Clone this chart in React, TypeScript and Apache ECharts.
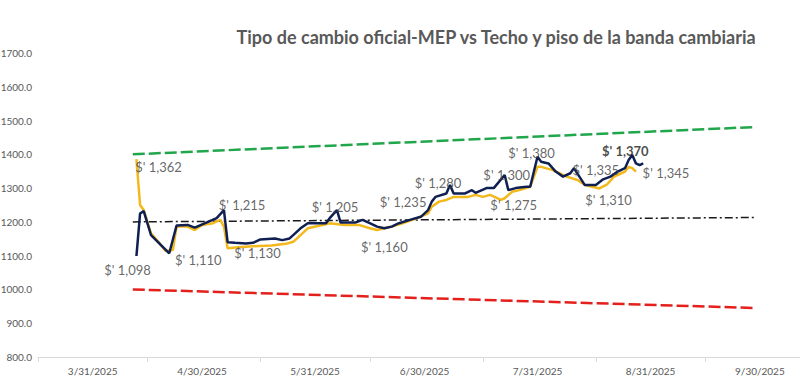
import React, { useEffect, useRef } from "react";
import * as echarts from "echarts";

const TITLE = "Tipo de cambio oficial-MEP vs Techo y piso de la banda cambiaria";

// Oficial (navy)
const oficialDates = [
  "2025-04-12", "2025-04-13", "2025-04-14", "2025-04-16", "2025-04-21", "2025-04-23", "2025-04-26", "2025-04-28",
  "2025-05-04", "2025-05-06", "2025-05-07", "2025-05-09", "2025-05-12", "2025-05-14", "2025-05-16", "2025-05-20",
  "2025-05-22", "2025-05-24", "2025-05-25", "2025-05-27", "2025-05-29", "2025-06-03", "2025-06-04", "2025-06-06",
  "2025-06-07", "2025-06-11", "2025-06-13", "2025-06-15", "2025-06-17", "2025-06-19", "2025-06-21", "2025-06-23",
  "2025-06-26", "2025-06-29", "2025-07-01", "2025-07-02", "2025-07-03", "2025-07-06", "2025-07-07", "2025-07-08",
  "2025-07-11", "2025-07-13", "2025-07-14", "2025-07-17", "2025-07-19", "2025-07-22", "2025-07-23", "2025-07-25",
  "2025-07-28", "2025-07-29", "2025-07-31", "2025-08-01", "2025-08-03", "2025-08-05", "2025-08-07", "2025-08-09",
  "2025-08-10", "2025-08-11", "2025-08-13", "2025-08-16", "2025-08-18", "2025-08-20", "2025-08-22", "2025-08-24",
  "2025-08-25", "2025-08-26", "2025-08-27", "2025-08-28", "2025-08-29",
];
const oficialValues = [
  1099, 1225, 1232, 1161, 1107, 1189, 1191, 1183,
  1211, 1235, 1140, 1138, 1136, 1138, 1148, 1151,
  1146, 1151, 1161, 1181, 1196, 1196, 1211, 1235,
  1198, 1198, 1206, 1196, 1186, 1181, 1186, 1196,
  1206, 1215, 1235, 1260, 1274, 1284, 1309, 1284,
  1284, 1294, 1286, 1300, 1300, 1339, 1294, 1300,
  1304, 1304, 1393, 1378, 1373, 1349, 1334, 1344,
  1359, 1342, 1309, 1309, 1326, 1334, 1349, 1359,
  1383, 1398, 1373, 1368, 1373,
];

// MEP (yellow)
const mepDates = [
  "2025-04-12", "2025-04-13", "2025-04-14", "2025-04-15", "2025-04-16", "2025-04-18", "2025-04-20", "2025-04-22",
  "2025-04-23", "2025-04-26", "2025-04-28", "2025-04-30", "2025-05-03", "2025-05-05", "2025-05-06", "2025-05-07",
  "2025-05-10", "2025-05-14", "2025-05-19", "2025-05-23", "2025-05-25", "2025-05-27", "2025-05-29", "2025-06-02",
  "2025-06-04", "2025-06-08", "2025-06-12", "2025-06-15", "2025-06-17", "2025-06-19", "2025-06-21", "2025-06-24",
  "2025-06-28", "2025-07-01", "2025-07-02", "2025-07-04", "2025-07-06", "2025-07-08", "2025-07-12", "2025-07-14",
  "2025-07-16", "2025-07-18", "2025-07-21", "2025-07-22", "2025-07-24", "2025-07-26", "2025-07-29", "2025-07-31",
  "2025-08-01", "2025-08-04", "2025-08-07", "2025-08-08", "2025-08-11", "2025-08-13", "2025-08-17", "2025-08-19",
  "2025-08-21", "2025-08-23", "2025-08-24", "2025-08-25", "2025-08-26", "2025-08-27",
];
const mepValues = [
  1386, 1250, 1235, 1200, 1166, 1141, 1114, 1117,
  1186, 1186, 1176, 1191, 1196, 1206, 1186, 1122,
  1125, 1128, 1130, 1135, 1141, 1161, 1181, 1191,
  1196, 1191, 1191, 1181, 1176, 1181, 1186, 1196,
  1211, 1225, 1245, 1260, 1265, 1274, 1274, 1280,
  1274, 1280, 1265, 1270, 1289, 1294, 1304, 1363,
  1363, 1354, 1339, 1334, 1324, 1309, 1299, 1310,
  1334, 1344, 1349, 1363, 1359, 1349,
];

// Band lines (ceiling, floor) and the dash-dot reference line
const bandDates = ["2025-04-11", "2025-09-29"];
const techoValues = [1400, 1481];
const pisoValues = [1000, 945];
const refValues = [1200, 1213];

// X-axis range, label dates (month ends) and tick dates (mid-months)
const xRange = ["2025-03-16", "2025-10-11"];
const xLabelDates = ["2025-03-31", "2025-04-30", "2025-05-31", "2025-06-30", "2025-07-31", "2025-08-31", "2025-09-30"];
const xTickDates = ["2025-03-16", "2025-04-15", "2025-05-16", "2025-06-15", "2025-07-16", "2025-08-16", "2025-09-15"];

// Annotations: which series / date they refer to, and their text
const annotationSeries = ["mep", "oficial", "oficial", "oficial", "oficial", "oficial", "oficial", "oficial",
  "oficial", "oficial", "mep", "oficial", "oficial", "mep", "oficial", "mep"];
const annotationDates = ["2025-04-12", "2025-04-12", "2025-04-21", "2025-05-06", "2025-05-07", "2025-06-06",
  "2025-06-19", "2025-07-01", "2025-07-07", "2025-07-22", "2025-07-22", "2025-07-31", "2025-08-16", "2025-08-17",
  "2025-08-26", "2025-08-27"];
const annotationTexts = ["$' 1,362", "$' 1,098", "$' 1,110", "$' 1,215", "$' 1,130", "$' 1,205", "$' 1,160",
  "$' 1,235", "$' 1,280", "$' 1,300", "$' 1,275", "$' 1,380", "$' 1,335", "$' 1,310", "$' 1,370", "$' 1,345"];

const DAY = 86400000;
const BASE = Date.UTC(2025, 2, 31);
function dayNum(s: string): number {
  const [y, m, d] = s.split("-").map(Number);
  return Math.round((Date.UTC(y, m - 1, d) - BASE) / DAY);
}
function dayLabel(n: number): string {
  const d = new Date(BASE + Math.round(n) * DAY);
  return `${d.getUTCMonth() + 1}/${d.getUTCDate()}/${d.getUTCFullYear()}`;
}

export default function App() {
  const ref = useRef<HTMLDivElement>(null);

  useEffect(() => {
    document.body.style.margin = "0";
    if (!ref.current) return;
    const chart = echarts.init(ref.current, null, { renderer: "svg" });

    const font = "Lato, 'Open Sans', sans-serif";
    const pair = (ds: string[], vs: number[]) => ds.map((d, i) => [dayNum(d), vs[i]]);

    const lookup = (series: string, date: string): number => {
      if (series === "mep") return mepValues[mepDates.indexOf(date)];
      return oficialValues[oficialDates.indexOf(date)];
    };

    // label offsets [dx, dy] (layout only)
    const offsets: [number, number][] = [
      [22, 8], [-9, 14], [29, 7], [18, -5], [30, 11], [-2, -3], [0, 19], [-25, -8],
      [-12, -2], [2, 0], [9, 7], [-6, -4], [0, -15], [9, 12], [-7, -4], [30, 1],
    ];

    const annotationData = annotationTexts.map((t, i) => ({
      value: [dayNum(annotationDates[i]), lookup(annotationSeries[i], annotationDates[i])],
      label: {
        show: true,
        formatter: t,
        offset: offsets[i],
        fontWeight: t === "$' 1,370" ? "bold" : "normal",
        color: t === "$' 1,370" ? "#1a1a1a" : "#404040",
      },
    }));

    chart.setOption({
      animation: false,
      backgroundColor: "#ffffff",
      title: {
        text: TITLE,
        right: 42,
        top: 26,
        textStyle: { fontFamily: font, fontSize: 18, fontWeight: "bold", color: "#595959", lineHeight: 22 },
        padding: 0,
      },
      grid: { left: 38, right: 0, top: 53, bottom: 23, containLabel: false, outerBoundsMode: "none" },
      xAxis: {
        type: "value",
        min: dayNum(xRange[0]),
        max: dayNum(xRange[1]),
        splitLine: { show: false },
        axisLine: { show: true, lineStyle: { color: "#d9d9d9", width: 1 } },
        axisTick: {
          show: true,
          length: 5,
          lineStyle: { color: "#d9d9d9" },
          customValues: xTickDates.map(dayNum),
        },
        axisLabel: {
          customValues: xLabelDates.map(dayNum),
          formatter: (v: number) => dayLabel(v),
          fontFamily: font,
          fontSize: 10,
          color: "#595959",
          margin: 9,
        },
      },
      yAxis: {
        type: "value",
        min: 800,
        max: 1700,
        interval: 100,
        splitLine: { show: false },
        axisLine: { show: false },
        axisTick: { show: false },
        axisLabel: {
          formatter: (v: number) => v.toFixed(1),
          fontFamily: font,
          fontSize: 10,
          color: "#595959",
          margin: 6,
        },
      },
      series: [
        {
          name: "Techo",
          type: "line",
          data: pair(bandDates, techoValues),
          showSymbol: false,
          lineStyle: { color: "#21a64b", width: 2.5, type: [12, 4] },
          silent: true,
        },
        {
          name: "Piso",
          type: "line",
          data: pair(bandDates, pisoValues),
          showSymbol: false,
          lineStyle: { color: "#e3201b", width: 2.5, type: [12, 4] },
          silent: true,
        },
        {
          name: "Ref",
          type: "line",
          data: pair(bandDates, refValues),
          showSymbol: false,
          lineStyle: { color: "#1a1a1a", width: 1.5, type: [8, 3, 2, 3] },
          silent: true,
        },
        {
          name: "MEP",
          type: "line",
          data: pair(mepDates, mepValues),
          showSymbol: false,
          lineStyle: { color: "#f2b81c", width: 2.5 },
          silent: true,
        },
        {
          name: "Oficial",
          type: "line",
          data: pair(oficialDates, oficialValues),
          showSymbol: false,
          lineStyle: { color: "#0f1f52", width: 2.5 },
          silent: true,
        },
        {
          name: "Etiquetas",
          type: "scatter",
          data: annotationData,
          symbolSize: 1,
          itemStyle: { color: "rgba(0,0,0,0)" },
          silent: true,
          z: 10,
          label: {
            show: true,
            position: "inside",
            align: "center",
            verticalAlign: "middle",
            fontFamily: font,
            fontSize: 13,
            color: "#404040",
          },
        },
      ],
    });

    return () => chart.dispose();
  }, []);

  return <div ref={ref} style={{ width: 800, height: 380 }} />;
}
